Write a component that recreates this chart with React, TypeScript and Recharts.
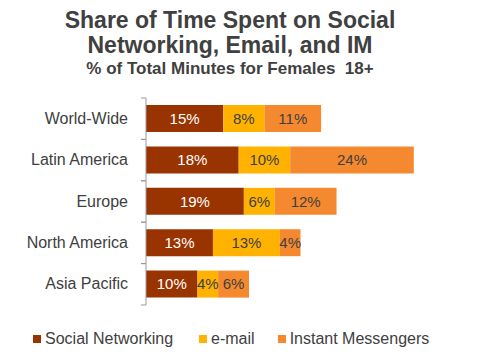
import { BarChart, Bar, XAxis, YAxis, LabelList, Legend } from "recharts";

const regions = ["World-Wide", "Latin America", "Europe", "North America", "Asia Pacific"];
const socialNetworking = [15, 18, 19, 13, 10];
const email = [8, 10, 6, 13, 4];
const instantMessengers = [11, 24, 12, 4, 6];

const series = [
  { key: "social", name: "Social Networking", color: "#993300", labelColor: "#ffffff", values: socialNetworking },
  { key: "email", name: "e-mail", color: "#FFB300", labelColor: "#404040", values: email },
  { key: "im", name: "Instant Messengers", color: "#F5892F", labelColor: "#404040", values: instantMessengers },
];

const data = regions.map((name, i) => ({
  name,
  social: socialNetworking[i],
  email: email[i],
  im: instantMessengers[i],
}));

const W = 500;
const H = 363;
const margin = { top: 98, right: 45, bottom: 58, left: 9 };
const yAxisWidth = 137;
const axisX = margin.left + yAxisWidth;
const band = (H - margin.top - margin.bottom) / regions.length;
const FONT = "'Liberation Sans', Arial, sans-serif";

function RegionTick(props: any) {
  const { y, payload } = props;
  return (
    <g>
      <line x1={axisX - 5} x2={axisX} y1={y - band / 2} y2={y - band / 2} stroke="#999" />
      <line x1={axisX - 5} x2={axisX} y1={y + band / 2} y2={y + band / 2} stroke="#999" />
      <text x={128} y={y} dy={5} textAnchor="end" fontSize={16} fill="#404040" fontFamily={FONT}>
        {payload.value}
      </text>
    </g>
  );
}

function LegendContent() {
  return (
    <div style={{ display: "flex", fontFamily: FONT, fontSize: 16, color: "#404040", paddingLeft: 33 }}>
      {series.map((s, i) => (
        <div key={s.key} style={{ display: "flex", alignItems: "center", marginRight: i === 0 ? 26 : 23 }}>
          <span style={{ width: 8, height: 8, background: s.color, display: "inline-block", marginRight: 4 }} />
          <span>{s.name}</span>
        </div>
      ))}
    </div>
  );
}

export default function App() {
  return (
    <div style={{ position: "absolute", left: 0, top: 0, width: W, height: H, background: "#fff" }}>
      <div
        style={{
          position: "absolute",
          left: 0,
          top: 8,
          width: 460,
          textAlign: "center",
          fontFamily: FONT,
          fontWeight: "bold",
          color: "#404040",
        }}
      >
        <div style={{ fontSize: 23, lineHeight: "25px" }}>Share of Time Spent on Social</div>
        <div style={{ fontSize: 23, lineHeight: "25px" }}>Networking, Email, and IM</div>
        <div style={{ fontSize: 17, lineHeight: "22px", whiteSpace: "pre" }}>% of Total Minutes for Females  18+</div>
      </div>
      <BarChart width={W} height={H} data={data} layout="vertical" margin={margin} barSize={27}>
        <XAxis type="number" hide domain={[0, 60]} />
        <YAxis
          type="category"
          dataKey="name"
          width={yAxisWidth}
          axisLine={{ stroke: "#999" }}
          tickLine={false}
          tick={<RegionTick />}
          interval={0}
        />
        <Legend
          verticalAlign="middle"
          layout="horizontal"
          wrapperStyle={{ top: 330, left: 0, width: 500 }}
          content={<LegendContent />}
        />
        {series.map((s) => (
          <Bar key={s.key} dataKey={s.key} name={s.name} stackId="a" fill={s.color} isAnimationActive={false}>
            <LabelList
              dataKey={s.key}
              position="center"
              formatter={(v: any) => `${v}%`}
              fill={s.labelColor}
              fontSize={15}
              fontFamily={FONT}
            />
          </Bar>
        ))}
      </BarChart>
    </div>
  );
}
